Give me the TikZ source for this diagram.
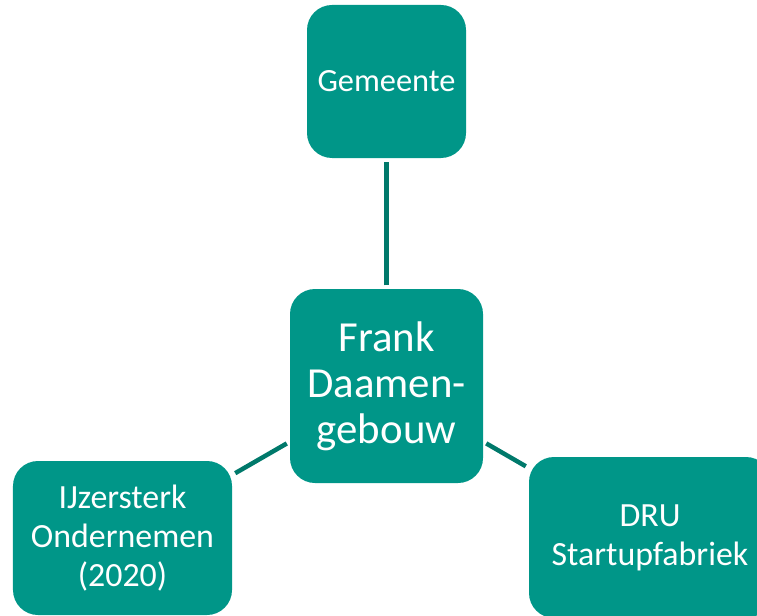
\documentclass[tikz,border=0pt]{standalone}
\usepackage{fontspec}
\setmainfont{Carlito}
\usepackage{tikz}
\definecolor{boxteal}{RGB}{0,150,136}
\definecolor{lineteal}{RGB}{0,121,107}

\begin{document}
\begin{tikzpicture}[x=1bp,y=-1bp,
	box/.style={rectangle, rounded corners=25bp, fill=boxteal, text=white, inner sep=0pt, align=center, font=\fontsize{34}{39}\selectfont},
	link/.style={draw=lineteal, line width=4.5bp, shorten >=3.5bp, shorten <=3.5bp}]
	\useasboundingbox (0,0) rectangle (757,616);
	\clip (0,0) rectangle (757,616);

	\node[box, minimum width=159bp, minimum height=153bp, font=\fontsize{32.5}{39}\selectfont] (Gem) at (386.5,81.5) {Gemeente};
	\node[box, minimum width=193bp, minimum height=194bp, font=\fontsize{43}{46}\selectfont] (FDG) at (386.5,386) {Frank\\Daamen-\\gebouw};
	\node[box, minimum width=219bp, minimum height=154bp] (IJO)  at (122.5,538) {IJzersterk\\Ondernemen\\(2020)};
	\node[box, minimum width=242bp, minimum height=161bp] (DRU)  at (650,537.5) {DRU\\Startupfabriek};

	\draw [link] (FDG) -- (Gem);
	\draw [link] (FDG) -- (IJO);
	\draw [link] (FDG) -- (DRU);
\end{tikzpicture}
\end{document}
